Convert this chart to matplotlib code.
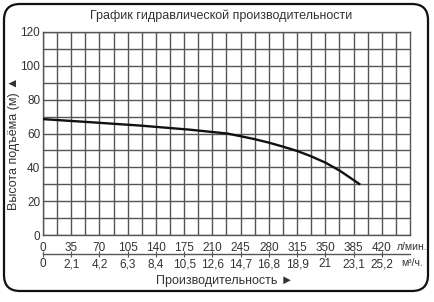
import numpy as np
import matplotlib
matplotlib.use('Agg')
import matplotlib.pyplot as plt
from matplotlib.patches import FancyBboxPatch
from matplotlib import font_manager

# ---- data ----
flow_lpm = [0, 58, 120, 181, 228, 245, 262, 280, 297, 315, 332, 350, 368, 385, 392]
head_m = [68.5, 66.7, 64.7, 62.3, 60.0, 58.4, 56.7, 54.6, 52.3, 49.7, 46.6, 42.8, 38.0, 32.5, 30.2]

lpm_ticks = [0, 35, 70, 105, 140, 175, 210, 245, 280, 315, 350, 385, 420]
lpm_labels = [str(v) for v in lpm_ticks]
m3h_labels = ['0', '2,1', '4,2', '6,3', '8,4', '10,5', '12,6', '14,7',
              '16,8', '18,9', '21', '23,1', '25,2']
head_ticks = [0, 20, 40, 60, 80, 100, 120]

title = 'График гидравлической производительности'
xlabel = 'Производительность ►'
ylabel = 'Высота подъёма (м) ▲'
unit_top = 'л/мин.'
unit_bottom = 'м³/ч.'

# ---- fonts ----
names = {f.name for f in font_manager.fontManager.ttflist}
main = 'Liberation Sans Narrow' if 'Liberation Sans Narrow' in names else 'Liberation Sans'
fam = [main, 'DejaVu Sans']
plt.rcParams['font.family'] = fam

TXT = '#333333'
GRID = '#555555'

W, H = 434, 302
fig = plt.figure(figsize=(W / 100, H / 100), dpi=100, facecolor='white')
L, R, T, B = 43, 410, 32, 235
ax = fig.add_axes([L / W, 1 - B / H, (R - L) / W, (B - T) / H])
ax.set_facecolor('white')

ax.plot(flow_lpm, head_m, color='#111111', lw=1.7, zorder=5)

ax.set_xlim(0, 455)
ax.set_ylim(0, 120)
ax.set_xticks(lpm_ticks)
ax.set_xticklabels(lpm_labels)
ax.set_xticks(np.arange(17.5, 455, 35), minor=True)
ax.set_yticks(head_ticks)
ax.set_yticks(np.arange(10, 120, 20), minor=True)
ax.grid(which='both', color=GRID, lw=1.0)
ax.set_axisbelow(True)
for s in ax.spines.values():
    s.set_color(GRID)
    s.set_linewidth(1.0)
ax.tick_params(which='both', length=0)
ax.tick_params(axis='x', pad=5, labelsize=8.5, labelcolor=TXT)
ax.tick_params(axis='y', pad=2, labelsize=8.5, labelcolor=TXT)

sec = ax.secondary_xaxis(-(254 - B) / (B - T),
                         functions=(lambda x: x * 0.06, lambda x: x / 0.06))
sec.set_xticks(np.array(lpm_ticks) * 0.06)
sec.set_xticklabels(m3h_labels)
sec.spines['bottom'].set_color(GRID)
sec.spines['bottom'].set_linewidth(1.0)
sec.tick_params(direction='inout', length=4, width=0.8, color=GRID,
                pad=1, labelsize=8.5, labelcolor=TXT)

ax.text(1.005, -(247 - B) / (B - T), unit_top, transform=ax.transAxes,
        ha='center', va='center', fontsize=7.5, color=TXT)
ax.text(1.005, -(263 - B) / (B - T), unit_bottom, transform=ax.transAxes,
        ha='center', va='center', fontsize=7.5, color=TXT)

fig.text(221 / W, 1 - 16 / H, title, ha='center', va='center',
         fontsize=9, color=TXT)
fig.text(225 / W, 1 - 281 / H, xlabel, ha='center', va='center',
         fontsize=9, color=TXT)
fig.text(14 / W, 1 - 143 / H, ylabel, ha='center', va='center',
         rotation=90, fontsize=9, color=TXT)

frame = FancyBboxPatch((0.04, 0.11), 4.24, 2.87,
                       boxstyle='round,pad=0,rounding_size=0.16',
                       transform=fig.dpi_scale_trans, fill=False,
                       lw=1.6, ec='#111111')
fig.patches.append(frame)

fig.savefig('out.png', dpi=100, facecolor='white')
